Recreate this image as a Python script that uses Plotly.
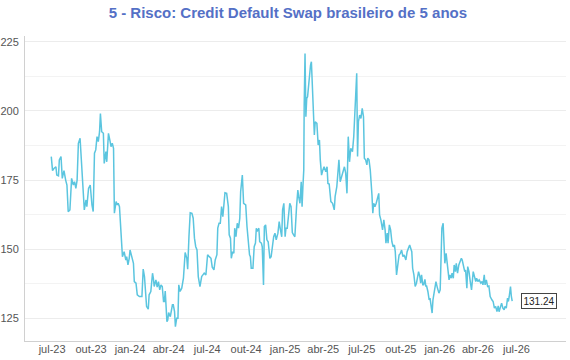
import plotly.graph_objects as go

dates = [
    "2023-06-29", "2023-07-02", "2023-07-06", "2023-07-10", "2023-07-12", "2023-07-16", "2023-07-18", "2023-07-22",
    "2023-07-25", "2023-07-29", "2023-08-02", "2023-08-05", "2023-08-08", "2023-08-12", "2023-08-16", "2023-08-20",
    "2023-08-23", "2023-08-26", "2023-08-29", "2023-09-01", "2023-09-05", "2023-09-09", "2023-09-13", "2023-09-15",
    "2023-09-19", "2023-09-21", "2023-09-25", "2023-09-29", "2023-10-03", "2023-10-06", "2023-10-09", "2023-10-12",
    "2023-10-15", "2023-10-18", "2023-10-21", "2023-10-23", "2023-10-26", "2023-10-30", "2023-11-01", "2023-11-05",
    "2023-11-07", "2023-11-11", "2023-11-15", "2023-11-17", "2023-11-20", "2023-11-23", "2023-11-25", "2023-11-29",
    "2023-12-02", "2023-12-04", "2023-12-07", "2023-12-11", "2023-12-14", "2023-12-18", "2023-12-22", "2023-12-24",
    "2023-12-27", "2023-12-30", "2024-01-01", "2024-01-05", "2024-01-09", "2024-01-11", "2024-01-15", "2024-01-18",
    "2024-01-23", "2024-01-29", "2024-02-01", "2024-02-04", "2024-02-07", "2024-02-09", "2024-02-13", "2024-02-15",
    "2024-02-19", "2024-02-23", "2024-02-25", "2024-02-27", "2024-03-02", "2024-03-05", "2024-03-08", "2024-03-11",
    "2024-03-14", "2024-03-17", "2024-03-20", "2024-03-22", "2024-03-24", "2024-03-28", "2024-03-30", "2024-04-01",
    "2024-04-05", "2024-04-07", "2024-04-10", "2024-04-12", "2024-04-15", "2024-04-17", "2024-04-20", "2024-04-23",
    "2024-04-25", "2024-04-28", "2024-05-02", "2024-05-06", "2024-05-10", "2024-05-14", "2024-05-16", "2024-05-19",
    "2024-05-22", "2024-05-26", "2024-05-29", "2024-06-01", "2024-06-04", "2024-06-07", "2024-06-10", "2024-06-14",
    "2024-06-18", "2024-06-21", "2024-06-24", "2024-06-28", "2024-07-02", "2024-07-06", "2024-07-10", "2024-07-13",
    "2024-07-17", "2024-07-20", "2024-07-24", "2024-07-26", "2024-07-29", "2024-08-01", "2024-08-04", "2024-08-07",
    "2024-08-09", "2024-08-12", "2024-08-16", "2024-08-20", "2024-08-22", "2024-08-25", "2024-08-27", "2024-08-30",
    "2024-09-02", "2024-09-04", "2024-09-07", "2024-09-10", "2024-09-13", "2024-09-16", "2024-09-18", "2024-09-22",
    "2024-09-25", "2024-09-30", "2024-10-03", "2024-10-06", "2024-10-09", "2024-10-11", "2024-10-13", "2024-10-17",
    "2024-10-20", "2024-10-23", "2024-10-25", "2024-10-27", "2024-10-31", "2024-11-02", "2024-11-06", "2024-11-08",
    "2024-11-11", "2024-11-13", "2024-11-16", "2024-11-19", "2024-11-22", "2024-11-26", "2024-11-29", "2024-12-02",
    "2024-12-05", "2024-12-08", "2024-12-11", "2024-12-15", "2024-12-18", "2024-12-21", "2024-12-24", "2024-12-26",
    "2024-12-29", "2025-01-01", "2025-01-03", "2025-01-06", "2025-01-09", "2025-01-12", "2025-01-15", "2025-01-18",
    "2025-01-21", "2025-01-24", "2025-01-28", "2025-01-31", "2025-02-02", "2025-02-05", "2025-02-08", "2025-02-10",
    "2025-02-12", "2025-02-14", "2025-02-15", "2025-02-17", "2025-02-19", "2025-02-21", "2025-02-23", "2025-02-27",
    "2025-03-02", "2025-03-04", "2025-03-06", "2025-03-09", "2025-03-11", "2025-03-13", "2025-03-17", "2025-03-20",
    "2025-03-23", "2025-03-25", "2025-03-28", "2025-03-31", "2025-04-03", "2025-04-07", "2025-04-10", "2025-04-12",
    "2025-04-15", "2025-04-19", "2025-04-23", "2025-04-27", "2025-04-29", "2025-05-03", "2025-05-05", "2025-05-08",
    "2025-05-11", "2025-05-15", "2025-05-18", "2025-05-21", "2025-05-24", "2025-05-27", "2025-05-30", "2025-06-02",
    "2025-06-05", "2025-06-09", "2025-06-12", "2025-06-14", "2025-06-17", "2025-06-19", "2025-06-21", "2025-06-23",
    "2025-06-26", "2025-06-29", "2025-07-02", "2025-07-05", "2025-07-07", "2025-07-10", "2025-07-13", "2025-07-15",
    "2025-07-18", "2025-07-21", "2025-07-25", "2025-07-27", "2025-07-29", "2025-08-01", "2025-08-04", "2025-08-08",
    "2025-08-10", "2025-08-12", "2025-08-15", "2025-08-19", "2025-08-22", "2025-08-25", "2025-08-27", "2025-08-30",
    "2025-09-01", "2025-09-04", "2025-09-07", "2025-09-10", "2025-09-13", "2025-09-16", "2025-09-18", "2025-09-21",
    "2025-09-24", "2025-09-27", "2025-09-30", "2025-10-03", "2025-10-06", "2025-10-09", "2025-10-13", "2025-10-16",
    "2025-10-19", "2025-10-22", "2025-10-27", "2025-10-29", "2025-11-01", "2025-11-04", "2025-11-07", "2025-11-09",
    "2025-11-12", "2025-11-15", "2025-11-17", "2025-11-19", "2025-11-22", "2025-11-24", "2025-11-27", "2025-11-29",
    "2025-12-01", "2025-12-04", "2025-12-07", "2025-12-09", "2025-12-11", "2025-12-14", "2025-12-16", "2025-12-19",
    "2025-12-21", "2025-12-23", "2025-12-26", "2025-12-28", "2025-12-30", "2026-01-02", "2026-01-04", "2026-01-06",
    "2026-01-09", "2026-01-11", "2026-01-13", "2026-01-16", "2026-01-18", "2026-01-21", "2026-01-23", "2026-01-25",
    "2026-01-28", "2026-01-30", "2026-02-02", "2026-02-04", "2026-02-07", "2026-02-09", "2026-02-12", "2026-02-15",
    "2026-02-19", "2026-02-21", "2026-02-23", "2026-02-26", "2026-03-01", "2026-03-03", "2026-03-06", "2026-03-08",
    "2026-03-11", "2026-03-14", "2026-03-17", "2026-03-21", "2026-03-24", "2026-03-27", "2026-03-29", "2026-04-01",
    "2026-04-04", "2026-04-08", "2026-04-11", "2026-04-13", "2026-04-16", "2026-04-18", "2026-04-21", "2026-04-24",
    "2026-04-27", "2026-04-30", "2026-05-04", "2026-05-07", "2026-05-10", "2026-05-13", "2026-05-16", "2026-05-19",
    "2026-05-21", "2026-05-24", "2026-05-27", "2026-05-30", "2026-06-02", "2026-06-04", "2026-06-07", "2026-06-10",
    "2026-06-12", "2026-06-14", "2026-06-17", "2026-06-19", "2026-06-21",
]

cds = [
    183.5, 178.4, 179.3, 179.8, 176.8, 176.5, 182.3, 183.5,
    175.6, 178.4, 175.0, 173.2, 163.6, 164.2, 175.6, 173.2,
    174.4, 172.0, 175.0, 188.3, 190.1, 180.5, 171.4, 164.2,
    167.8, 165.4, 172.0, 173.2, 166.0, 163.6, 184.7, 185.9,
    190.7, 188.9, 192.5, 199.1, 192.5, 191.9, 181.0, 185.3,
    181.6, 191.9, 188.9, 187.1, 188.3, 186.5, 163.0, 167.2,
    166.0, 166.6, 165.4, 153.4, 147.3, 149.1, 146.1, 147.3,
    144.3, 146.7, 149.7, 147.3, 144.9, 138.3, 137.7, 133.5,
    132.9, 132.9, 142.8, 140.1, 134.1, 129.3, 128.3, 133.5,
    134.7, 141.3, 139.5, 136.5, 138.9, 136.3, 138.3, 135.3,
    137.1, 136.5, 131.1, 131.1, 134.9, 123.8, 124.4, 127.1,
    125.6, 127.1, 129.9, 129.9, 127.4, 122.0, 125.0, 125.0,
    137.1, 134.7, 135.9, 139.5, 148.8, 146.7, 142.8, 154.5,
    163.2, 163.0, 161.2, 154.0, 150.9, 149.7, 140.1, 136.5,
    140.1, 140.7, 141.3, 140.7, 148.0, 147.3, 146.7, 143.5,
    142.5, 146.1, 148.0, 157.6, 159.4, 159.4, 165.4, 161.8,
    165.4, 170.4, 170.2, 165.4, 155.2, 154.0, 146.7, 149.1,
    148.5, 157.6, 154.5, 159.4, 157.6, 161.2, 170.8, 176.8,
    166.6, 166.0, 158.2, 152.2, 148.0, 147.3, 143.1, 143.1,
    150.9, 152.2, 157.6, 156.4, 157.6, 152.7, 152.2, 150.9,
    137.1, 158.2, 158.8, 153.4, 152.7, 146.7, 147.3, 150.9,
    154.5, 155.8, 153.4, 155.8, 160.0, 157.0, 154.5, 164.2,
    166.6, 154.5, 157.6, 157.6, 161.8, 166.6, 165.4, 156.0,
    155.2, 154.5, 165.4, 171.4, 169.0, 166.6, 174.4, 165.4,
    172.6, 178.6, 201.5, 220.8, 197.9, 204.5, 205.1, 212.4,
    216.6, 217.8, 208.7, 200.3, 191.3, 196.1, 195.5, 187.7,
    189.5, 182.3, 176.8, 178.6, 179.8, 178.0, 179.8, 173.8,
    173.6, 167.2, 166.6, 164.2, 169.0, 172.6, 177.5, 182.3,
    174.4, 176.8, 178.0, 179.8, 177.5, 170.2, 190.7, 181.6,
    186.5, 185.3, 190.7, 199.1, 205.7, 213.6, 183.5, 196.1,
    198.5, 197.3, 200.9, 197.9, 182.9, 182.3, 180.5, 182.9,
    182.3, 178.6, 169.6, 163.0, 166.6, 165.4, 166.6, 169.6,
    170.2, 162.4, 160.6, 157.0, 160.6, 157.0, 152.2, 155.8,
    152.2, 158.8, 157.0, 152.7, 150.9, 151.5, 149.1, 140.7,
    144.9, 147.9, 148.5, 149.7, 147.3, 147.9, 146.1, 149.1,
    150.3, 151.5, 149.1, 143.1, 140.7, 136.5, 137.7, 140.1,
    141.9, 140.1, 137.7, 140.7, 137.1, 137.1, 139.1, 136.7,
    136.7, 134.7, 131.7, 132.3, 129.3, 126.9, 131.7, 134.7,
    137.7, 138.3, 136.3, 135.3, 134.1, 135.3, 147.9, 157.6,
    159.4, 149.7, 144.9, 148.5, 145.5, 141.9, 138.9, 140.7,
    139.5, 141.3, 139.5, 144.3, 141.9, 144.9, 141.3, 144.3,
    145.5, 146.7, 146.1, 144.3, 141.9, 142.5, 135.9, 143.7,
    141.9, 138.3, 135.3, 141.9, 140.1, 138.3, 139.5, 138.3,
    138.9, 137.7, 138.3, 137.1, 140.7, 137.1, 138.9, 136.5,
    136.7, 132.9, 131.7, 131.1, 128.7, 129.3, 127.4, 129.5,
    127.4, 128.7, 130.5, 128.7, 128.1, 129.3, 128.7, 132.3,
    131.1, 132.9, 136.5, 132.9, 131.24,
]

tick_dates = ["2023-07-01", "2023-10-01", "2024-01-01", "2024-04-01", "2024-07-01",
              "2024-10-01", "2025-01-01", "2025-04-01", "2025-07-01", "2025-10-01",
              "2026-01-01", "2026-04-01", "2026-07-01"]
tick_labels = ["jul-23", "out-23", "jan-24", "abr-24", "jul-24", "out-24", "jan-25",
               "abr-25", "jul-25", "out-25", "jan-26", "abr-26", "jul-26"]
y_ticks = [125, 150, 175, 200, 225]

title_text = "5 - Risco: Credit Default Swap brasileiro de 5 anos"
line_color = "#5bc5df"

fig = go.Figure()
fig.add_trace(go.Scatter(
    x=dates, y=cds, mode="lines",
    line=dict(color=line_color, width=1.5),
    hoverinfo="skip", showlegend=False,
))

fig.add_annotation(
    x=dates[-1], y=cds[-1], xref="x", yref="y",
    text=f"{cds[-1]:.2f}", showarrow=False,
    xanchor="left", yanchor="middle", xshift=9,
    font=dict(family="Liberation Sans, Arial, sans-serif", size=10, color="#222"),
    bordercolor="#444", borderwidth=1, borderpad=1.5, bgcolor="white",
)

fig.update_layout(
    width=570, height=360,
    margin=dict(l=25, r=4, t=36, b=19, autoexpand=False),
    paper_bgcolor="white", plot_bgcolor="white",
    hovermode=False, dragmode=False,
    title=dict(text=f"<b>{title_text}</b>", x=0.505, xanchor="center",
               yref="container", y=0.98, yanchor="top", automargin=False,
               font=dict(family="Liberation Sans, Arial, sans-serif", size=15, color="#5470c6")),
    font=dict(family="Liberation Sans, Arial, sans-serif", size=11, color="#555"),
    xaxis=dict(
        type="date", range=["2023-04-28", "2026-10-26"],
        tickvals=tick_dates, ticktext=tick_labels, automargin=False,
        showgrid=False, showline=True, linecolor="#d0d0d0", linewidth=1,
        ticks="", ticklen=0, tickfont=dict(size=11, color="#555"),
        zeroline=False, ticklabelstandoff=-2,
    ),
    yaxis=dict(
        range=[116.8, 227.1], tickvals=y_ticks, automargin=False,
        showgrid=True, gridcolor="#ececec", gridwidth=1,
        minor=dict(dtick=12.5, tick0=125, showgrid=True, gridcolor="#f3f3f3", gridwidth=1),
        showline=True, linecolor="#d0d0d0", linewidth=1,
        ticks="", tickfont=dict(size=11, color="#555"), zeroline=False,
        ticklabelstandoff=3,
    ),
)

fig.write_html(
    "out.html",
    config={"displayModeBar": False, "staticPlot": True},
    post_script="document.body.style.margin='0';document.body.style.padding='0';document.body.style.overflow='hidden';",
)
